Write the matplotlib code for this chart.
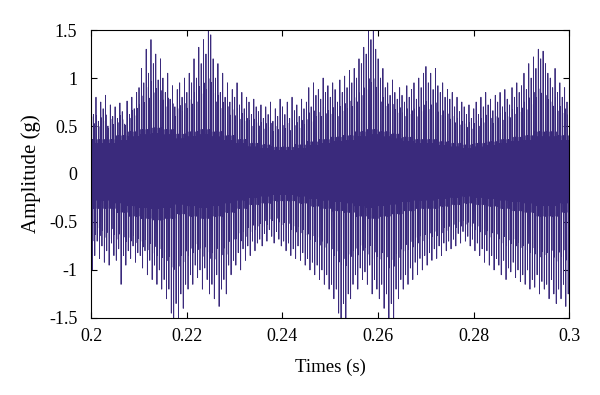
import numpy as np
import matplotlib
matplotlib.use('Agg')
import matplotlib.pyplot as plt

# spike tips, one per 0.5 ms (0.200 s ... 0.2995 s)
upper_peaks = [
    0.78, 0.62, 0.80, 0.55, 0.75, 0.68, 0.82, 0.50, 0.72, 0.60,
    0.70, 0.58, 0.74, 0.65, 0.52, 0.76, 0.62, 0.80, 0.68, 0.85,
    0.90, 1.10, 0.95, 1.30, 1.05, 1.40, 1.15, 1.25, 0.98, 1.20,
    1.00, 0.85, 1.05, 0.78, 0.92, 0.70, 0.88, 0.95, 0.80, 1.00,
    0.85, 1.05, 0.95, 1.20, 1.00, 1.32, 1.15, 1.40, 1.25, 1.50,
    1.45, 1.20, 1.00, 1.15, 0.85, 1.05, 0.80, 0.95, 0.75, 0.88,
    0.80, 0.95, 0.72, 0.85, 0.68, 0.80, 0.75, 0.62, 0.78, 0.70,
    0.65, 0.72, 0.58, 0.70, 0.62, 0.75, 0.55, 0.68, 0.60, 0.78,
    0.70, 0.62, 0.75, 0.58, 0.80, 0.66, 0.72, 0.60, 0.78, 0.68,
    0.75, 0.90, 0.70, 0.95, 0.82, 0.88, 0.78, 1.00, 0.85, 0.92,
    0.80, 0.95, 0.88, 0.75, 0.98, 0.85, 1.02, 0.90, 1.08, 0.95,
    1.10, 1.00, 1.20, 1.15, 1.32, 1.25, 1.50, 1.40, 1.50, 1.30,
    1.20, 1.00, 1.10, 0.90, 0.95, 0.82, 0.98, 0.85, 0.78, 0.90,
    0.82, 0.75, 0.92, 0.80, 0.88, 0.95, 0.78, 1.00, 0.90, 1.05,
    1.12, 0.95, 1.05, 0.88, 1.10, 0.92, 0.85, 0.95, 0.80, 0.88,
    0.78, 0.85, 0.70, 0.80, 0.65, 0.75, 0.70, 0.62, 0.72, 0.58,
    0.68, 0.75, 0.62, 0.80, 0.70, 0.85, 0.72, 0.78, 0.66, 0.82,
    0.75, 0.85, 0.70, 0.88, 0.78, 0.72, 0.90, 0.80, 0.95, 0.85,
    0.92, 1.05, 0.88, 1.15, 1.00, 1.22, 1.10, 1.30, 1.20, 1.28,
    1.15, 1.05, 1.00, 0.90, 1.10, 0.85, 0.95, 0.80, 0.90, 0.75,
]
lower_peaks = [
    -1.00, -0.85, -0.70, -0.88, -0.75, -0.92, -0.80, -0.95, -0.72, -0.85,
    -0.90, -0.78, -1.15, -0.85, -0.95, -0.80, -0.88, -0.75, -0.92, -0.82,
    -0.85, -0.98, -0.80, -1.05, -0.90, -1.10, -0.95, -1.15, -1.00, -1.20,
    -1.10, -1.30, -1.20, -1.45, -1.50, -1.35, -1.50, -1.25, -1.40, -1.15,
    -1.20, -1.05, -1.15, -0.95, -1.08, -1.00, -1.20, -0.98, -1.10, -1.25,
    -1.15, -1.30, -1.05, -1.38, -1.20, -1.10, -1.25, -0.95, -1.05, -0.90,
    -0.95, -0.82, -1.00, -0.78, -0.90, -0.75, -0.85, -0.70, -0.80, -0.72,
    -0.68, -0.75, -0.62, -0.70, -0.58, -0.65, -0.72, -0.60, -0.68, -0.75,
    -0.70, -0.80, -0.72, -0.85, -0.78, -0.88, -0.75, -0.90, -0.82, -0.95,
    -0.88, -1.00, -0.92, -1.05, -0.95, -1.10, -1.00, -1.15, -1.05, -1.20,
    -1.15, -1.30, -1.20, -1.45, -1.50, -1.35, -1.50, -1.25, -1.30, -1.15,
    -1.05, -1.20, -0.98, -1.10, -1.02, -1.15, -0.95, -1.25, -1.10, -1.20,
    -1.30, -1.15, -1.40, -1.25, -1.50, -1.35, -1.50, -1.20, -1.30, -1.10,
    -1.20, -1.05, -1.15, -0.98, -1.10, -0.92, -1.05, -0.88, -1.00, -0.85,
    -0.95, -0.82, -0.90, -0.78, -0.88, -0.75, -0.85, -0.72, -0.80, -0.70,
    -0.78, -0.68, -0.75, -0.62, -0.72, -0.60, -0.70, -0.65, -0.75, -0.68,
    -0.80, -0.72, -0.85, -0.78, -0.92, -0.80, -0.95, -0.85, -1.00, -0.88,
    -0.95, -1.05, -0.90, -1.10, -0.98, -1.02, -0.92, -1.08, -1.00, -1.12,
    -1.05, -1.15, -1.00, -1.20, -1.10, -1.18, -1.05, -1.25, -1.12, -1.20,
    -1.15, -1.30, -1.10, -1.25, -1.35, -1.20, -1.30, -1.15, -1.38, -1.25,
]
# half-width of the dense core, one per 2.5 ms
core_amp = [
    0.45, 0.45, 0.50, 0.55, 0.58, 0.60, 0.58, 0.52, 0.55, 0.58,
    0.55, 0.50, 0.45, 0.40, 0.38, 0.35, 0.35, 0.38, 0.42, 0.45,
    0.48, 0.50, 0.55, 0.58, 0.55, 0.52, 0.48, 0.45, 0.45, 0.42,
    0.40, 0.38, 0.40, 0.42, 0.45, 0.48, 0.50, 0.55, 0.55, 0.50,
]

yticks = [-1.5, -1, -0.5, 0, 0.5, 1, 1.5]
ytick_labels = ['-1.5', '-1', '-0.5', '0', '0.5', '1', '1.5']
xticks = [0.2, 0.22, 0.24, 0.26, 0.28, 0.3]
xtick_labels = ['0.2', '0.22', '0.24', '0.26', '0.28', '0.3']

# build the sampled trace: 10 samples per 0.5 ms block
t0, dt = 0.2, 0.00005
core_shape = [0.9, -0.6, 1.15, -0.5, 0.8, -0.9, 0.5, -1.15, 0.7, -0.8]
core = np.repeat(core_amp, 5)
sig = []
for i in range(len(upper_peaks)):
    blk = [core[i] * f for f in core_shape]
    blk[0] = upper_peaks[i]
    blk[5] = lower_peaks[i]
    # smaller in-between spikes
    blk[2] = 0.45 * upper_peaks[i] + 0.55 * core[i]
    blk[7] = 0.45 * lower_peaks[i] - 0.55 * core[i]
    sig.extend(blk)
sig.append(upper_peaks[-1] * 0.6)
sig = np.array(sig)
t = t0 + dt * np.arange(len(sig))

plt.rcParams['font.family'] = ['Liberation Serif', 'DejaVu Serif']

fig = plt.figure(figsize=(6, 3.95), dpi=100)
ax = fig.add_axes([0.152, 0.195, 0.797, 0.729])
ax.plot(t, sig, color='#3a2a7c', lw=0.6)

ax.set_xlim(0.2, 0.3)
ax.set_ylim(-1.5, 1.5)
ax.set_xticks(xticks)
ax.set_xticklabels(xtick_labels)
ax.set_yticks(yticks)
ax.set_yticklabels(ytick_labels)
ax.tick_params(direction='in', top=True, right=True, labelsize=13, length=4, width=0.8)
ax.tick_params(axis='y', pad=10)
ax.tick_params(axis='x', pad=7)
for s in ax.spines.values():
    s.set_linewidth(0.8)
ax.set_xlabel('Times (s)', fontsize=13.5, labelpad=10)
ax.set_ylabel('Amplitude (g)', fontsize=15, labelpad=6)

fig.savefig('out.png', dpi=100)
